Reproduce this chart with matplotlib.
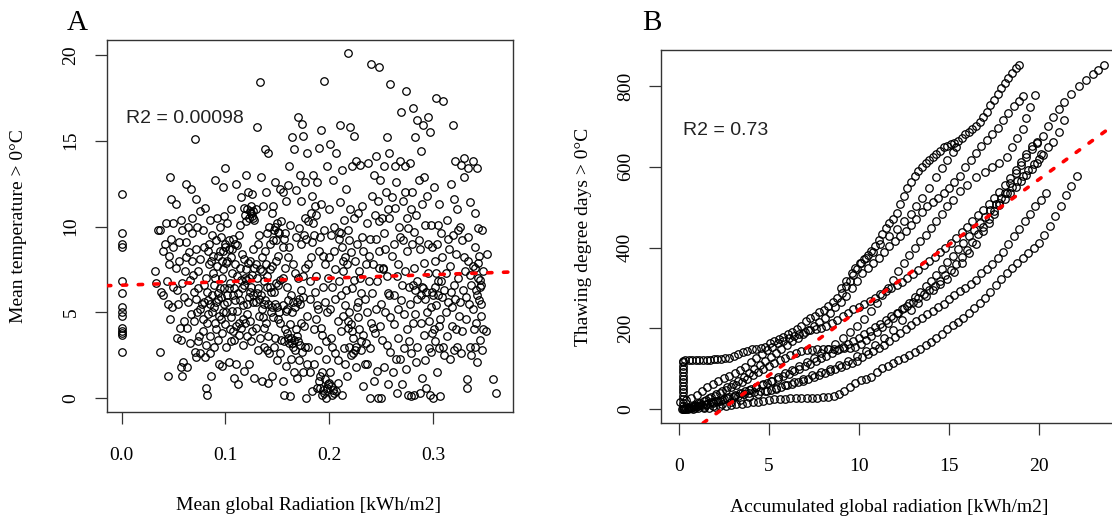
import numpy as np
import matplotlib.pyplot as plt

plt.rcParams['font.family'] = ['Liberation Serif', 'DejaVu Serif']

# ---- panel A: mean daily global radiation vs mean temperature > 0 C ----
pts_zero = [(0.0, 11.9), (0.0, 9.6), (0.0, 9.0), (0.0, 8.8), (0.0, 6.8), (0.0, 6.1),
            (0.0, 5.3), (0.0, 5.0), (0.0, 4.8), (0.0, 4.1), (0.0, 3.9), (0.0, 3.8),
            (0.0, 3.7), (0.0, 2.7)]

pts_low = [(0.032, 7.4), (0.033, 6.7), (0.035, 9.8), (0.037, 9.8), (0.037, 2.7), (0.038, 6.2),
           (0.040, 6.0), (0.040, 8.6), (0.043, 10.2), (0.045, 5.5), (0.045, 1.3), (0.046, 8.3),
           (0.046, 7.8), (0.047, 12.9), (0.048, 9.3), (0.048, 11.6), (0.049, 5.3), (0.050, 6.5),
           (0.050, 10.2), (0.052, 11.3), (0.052, 7.6), (0.053, 3.5), (0.054, 5.5), (0.055, 8.0),
           (0.056, 4.1), (0.057, 10.4), (0.057, 3.4), (0.057, 1.8), (0.058, 1.3), (0.058, 9.8),
           (0.059, 2.1), (0.060, 5.9), (0.061, 7.4), (0.062, 12.5), (0.062, 8.2), (0.063, 4.1),
           (0.063, 1.8), (0.064, 10.0), (0.065, 8.5), (0.066, 6.9), (0.067, 12.2), (0.067, 4.9),
           (0.068, 9.6), (0.068, 10.5), (0.069, 7.2), (0.070, 4.5), (0.071, 2.7), (0.071, 15.1),
           (0.072, 11.6), (0.072, 2.4), (0.073, 5.0), (0.073, 10.0), (0.074, 7.4), (0.075, 3.6),
           (0.076, 10.9), (0.076, 2.6), (0.077, 5.5), (0.078, 9.8), (0.079, 6.6), (0.080, 11.1),
           (0.080, 2.4), (0.081, 0.6), (0.082, 0.2), (0.082, 4.4), (0.083, 5.7), (0.084, 7.8),
           (0.084, 9.0), (0.085, 10.4), (0.085, 3.6), (0.086, 1.3), (0.087, 6.0), (0.088, 8.3),
           (0.089, 5.3), (0.090, 12.7), (0.090, 7.0), (0.091, 4.0), (0.092, 10.5), (0.093, 5.8),
           (0.093, 8.3), (0.094, 2.0), (0.095, 6.4), (0.096, 9.4), (0.096, 4.6), (0.097, 1.9),
           (0.098, 12.3), (0.098, 7.5), (0.099, 5.5),
           (0.072, 5.8), (0.074, 6.4), (0.076, 5.2), (0.078, 4.6), (0.079, 5.6), (0.081, 7.0),
           (0.082, 6.2), (0.083, 4.9), (0.085, 5.5), (0.086, 8.0), (0.087, 5.0), (0.088, 7.3),
           (0.089, 6.6), (0.090, 4.4), (0.091, 5.6), (0.092, 7.7), (0.093, 6.1), (0.094, 4.8),
           (0.095, 8.6), (0.096, 5.9), (0.097, 7.0), (0.098, 5.0), (0.099, 6.4), (0.098, 8.6),
           (0.097, 8.0),
           (0.042, 9.0), (0.044, 6.8), (0.047, 4.6), (0.050, 8.8), (0.053, 6.3), (0.055, 9.1),
           (0.058, 6.7), (0.060, 4.5), (0.062, 9.1), (0.064, 5.6), (0.066, 3.2), (0.068, 8.0),
           (0.070, 6.2), (0.072, 8.7), (0.074, 3.3), (0.076, 8.1), (0.078, 3.9), (0.079, 8.8)]

pts_mid1 = [(0.100, 13.4), (0.100, 8.8), (0.101, 3.0), (0.102, 6.0), (0.102, 10.2), (0.103, 2.1),
            (0.104, 4.0), (0.105, 8.2), (0.105, 11.0), (0.106, 5.1), (0.107, 3.9), (0.108, 6.4),
            (0.108, 1.2), (0.109, 9.0), (0.110, 12.5), (0.110, 2.0), (0.111, 7.1), (0.112, 0.8),
            (0.113, 4.4), (0.114, 10.1), (0.114, 5.7), (0.115, 11.7), (0.116, 8.4), (0.117, 3.1),
            (0.118, 6.6), (0.118, 1.6), (0.119, 10.7), (0.120, 13.0), (0.120, 7.5), (0.121, 4.9),
            (0.122, 12.0), (0.123, 10.5), (0.123, 2.0), (0.124, 6.2), (0.124, 8.0), (0.125, 10.8),
            (0.126, 3.9), (0.126, 11.9), (0.127, 5.6), (0.127, 10.5), (0.128, 1.2), (0.129, 7.8),
            (0.130, 15.8), (0.130, 6.1), (0.131, 2.8), (0.132, 9.5), (0.132, 4.8), (0.133, 18.4),
            (0.134, 12.9), (0.135, 7.4), (0.135, 1.0), (0.136, 11.2), (0.137, 5.5), (0.137, 3.0),
            (0.138, 14.5), (0.138, 8.6), (0.139, 12.0), (0.140, 6.5), (0.140, 2.8), (0.141, 14.3),
            (0.141, 0.9), (0.142, 10.0), (0.143, 7.5), (0.144, 5.0), (0.145, 1.3), (0.146, 11.2),
            (0.146, 9.2), (0.147, 6.2), (0.148, 3.5), (0.148, 12.6), (0.149, 8.0),
            (0.100, 4.3), (0.101, 7.9), (0.102, 5.6), (0.103, 8.7), (0.104, 6.7), (0.105, 4.7),
            (0.106, 7.3), (0.107, 9.3), (0.108, 3.4), (0.109, 5.7), (0.110, 4.2), (0.111, 8.9),
            (0.112, 6.1), (0.113, 3.7), (0.114, 7.6), (0.115, 4.1), (0.116, 6.4), (0.117, 5.4),
            (0.118, 8.1), (0.119, 4.4), (0.120, 6.9), (0.121, 3.6), (0.122, 7.9), (0.123, 5.9),
            (0.124, 4.5), (0.125, 6.5), (0.126, 7.2), (0.127, 6.0), (0.128, 7.6), (0.129, 5.6),
            (0.130, 7.0), (0.131, 6.4), (0.132, 5.8), (0.133, 7.5), (0.134, 6.0), (0.135, 5.2),
            (0.136, 4.7), (0.137, 6.8), (0.138, 5.7), (0.139, 4.4), (0.140, 7.1), (0.141, 5.5),
            (0.142, 2.6), (0.143, 9.0), (0.144, 6.2), (0.145, 5.3), (0.146, 4.7), (0.147, 9.8),
            (0.148, 5.5), (0.149, 9.2), (0.124, 10.9), (0.126, 10.6), (0.127, 10.9),
            (0.128, 10.4), (0.125, 11.2), (0.129, 11.0), (0.121, 11.0), (0.118, 11.1),
            (0.120, 10.3), (0.100, 9.0), (0.103, 9.2), (0.106, 8.7), (0.102, 8.0),
            (0.145, 10.8), (0.140, 9.6), (0.148, 10.0),
            (0.081, 3.1), (0.083, 8.6), (0.085, 2.6), (0.087, 9.5), (0.089, 3.0), (0.091, 9.2),
            (0.093, 3.4), (0.095, 10.0), (0.097, 3.8), (0.099, 10.6), (0.101, 5.0), (0.103, 6.4),
            (0.105, 3.3), (0.107, 6.0), (0.109, 7.8), (0.111, 5.1), (0.113, 9.5), (0.115, 6.9),
            (0.117, 4.6), (0.119, 7.0), (0.121, 5.5), (0.123, 7.0), (0.125, 3.3), (0.127, 8.7),
            (0.129, 4.1), (0.131, 9.0), (0.133, 3.5), (0.135, 8.2), (0.137, 4.1), (0.139, 7.8),
            (0.141, 3.6), (0.143, 6.5), (0.145, 7.7), (0.147, 3.0), (0.149, 6.7)]

pts_mid2 = [(0.150, 10.2), (0.150, 2.2), (0.151, 4.6), (0.152, 9.6), (0.153, 6.9), (0.153, 12.2),
            (0.154, 3.4), (0.155, 1.0), (0.155, 5.4), (0.156, 0.2), (0.156, 9.3), (0.157, 7.6),
            (0.158, 11.5), (0.158, 1.9), (0.159, 5.2), (0.160, 3.5), (0.160, 8.2), (0.161, 13.5),
            (0.162, 0.1), (0.162, 10.1), (0.163, 6.0), (0.164, 15.2), (0.164, 3.2), (0.165, 7.8),
            (0.166, 14.5), (0.166, 1.5), (0.167, 5.3), (0.168, 12.1), (0.168, 9.4), (0.169, 3.6),
            (0.170, 16.4), (0.170, 7.0), (0.171, 2.2), (0.172, 13.0), (0.172, 5.5), (0.173, 11.5),
            (0.173, 9.0), (0.174, 16.0), (0.175, 15.3), (0.175, 1.5), (0.176, 4.2), (0.177, 7.6),
            (0.177, 12.6), (0.178, 0.0), (0.179, 14.3), (0.180, 10.3), (0.180, 3.0), (0.181, 5.8),
            (0.182, 8.2), (0.183, 11.8), (0.183, 0.4), (0.184, 13.0), (0.185, 9.5), (0.185, 2.0),
            (0.186, 6.2), (0.187, 10.7), (0.187, 4.6), (0.188, 12.6), (0.188, 0.6), (0.189, 5.2),
            (0.190, 14.6), (0.190, 8.6), (0.191, 1.3), (0.192, 15.6), (0.192, 11.3), (0.193, 0.2),
            (0.193, 3.7), (0.194, 6.5), (0.195, 18.5), (0.195, 9.8), (0.196, 7.8), (0.197, 2.3),
            (0.198, 13.5), (0.198, 5.0), (0.199, 0.8),
            (0.150, 5.3), (0.151, 9.7), (0.152, 5.0), (0.153, 4.4), (0.154, 10.3), (0.155, 8.8),
            (0.156, 3.3), (0.157, 9.6), (0.158, 5.1), (0.159, 3.8), (0.160, 5.7), (0.161, 3.2),
            (0.162, 4.3), (0.163, 3.5), (0.164, 5.0), (0.165, 3.0), (0.166, 3.4), (0.167, 2.8),
            (0.168, 4.0), (0.169, 5.6), (0.170, 3.3), (0.171, 5.8), (0.172, 3.1), (0.173, 6.3),
            (0.174, 2.7), (0.175, 5.9), (0.176, 9.5), (0.177, 3.0), (0.178, 9.3), (0.179, 4.8),
            (0.180, 7.8), (0.181, 1.5), (0.182, 10.8), (0.184, 10.2), (0.186, 11.2), (0.188, 5.4),
            (0.190, 1.0), (0.191, 0.6), (0.194, 0.5), (0.196, 1.1), (0.198, 0.6),
            (0.160, 12.4), (0.155, 12.0), (0.151, 8.3),
            (0.151, 6.6), (0.153, 2.6), (0.155, 7.0), (0.157, 4.0), (0.159, 6.5), (0.161, 8.8),
            (0.163, 2.3), (0.165, 5.6), (0.167, 7.3), (0.169, 1.2), (0.171, 9.9), (0.173, 4.4),
            (0.175, 7.1), (0.177, 10.5), (0.179, 2.0), (0.181, 6.8), (0.183, 9.1), (0.185, 4.0),
            (0.187, 7.1), (0.189, 2.8), (0.191, 9.4), (0.192, 4.1), (0.194, 8.3), (0.196, 5.6),
            (0.197, 3.3), (0.199, 7.0), (0.193, 1.5), (0.195, 0.3), (0.197, 0.0)]

pts_high1 = [(0.200, 11.0), (0.200, 8.2), (0.201, 14.8), (0.202, 3.5), (0.202, 9.5), (0.203, 6.5),
             (0.204, 0.5), (0.204, 12.7), (0.205, 10.0), (0.206, 2.6), (0.206, 7.5), (0.207, 14.3),
             (0.208, 4.5), (0.208, 0.9), (0.209, 9.7), (0.210, 15.9), (0.210, 11.4), (0.211, 6.0),
             (0.212, 13.3), (0.212, 0.2), (0.213, 8.0), (0.214, 2.9), (0.214, 10.4), (0.215, 5.4),
             (0.216, 12.2), (0.217, 1.3), (0.217, 7.8), (0.218, 20.1), (0.218, 4.1), (0.219, 9.2),
             (0.220, 15.8), (0.220, 11.0), (0.221, 2.5), (0.222, 13.5), (0.222, 6.4), (0.223, 3.5),
             (0.224, 10.5), (0.224, 15.3), (0.225, 8.0), (0.226, 13.8), (0.226, 1.8), (0.227, 5.3),
             (0.228, 10.8), (0.229, 4.0), (0.230, 13.6), (0.230, 7.0), (0.231, 2.8), (0.232, 11.2),
             (0.233, 0.7), (0.233, 8.6), (0.234, 5.8), (0.235, 3.2), (0.236, 10.2), (0.236, 2.0),
             (0.237, 13.7), (0.238, 6.8), (0.239, 0.0), (0.239, 9.3), (0.240, 19.5), (0.240, 4.4),
             (0.241, 11.8), (0.242, 7.8), (0.243, 1.0), (0.243, 13.0), (0.244, 3.8), (0.245, 9.3),
             (0.245, 14.1), (0.246, 6.8), (0.247, 11.5), (0.247, 0.0), (0.248, 19.3), (0.248, 8.6),
             (0.249, 12.7),
             (0.200, 0.9), (0.202, 0.7), (0.205, 0.3), (0.207, 0.4), (0.209, 9.3), (0.211, 9.6),
             (0.213, 7.4), (0.215, 8.2), (0.218, 4.5), (0.219, 3.0), (0.221, 4.3), (0.223, 2.6),
             (0.226, 3.0), (0.228, 5.6), (0.231, 3.3), (0.234, 2.0), (0.248, 7.6),
             (0.201, 5.2), (0.203, 3.0), (0.205, 8.6), (0.206, 5.8), (0.208, 2.2), (0.209, 6.8),
             (0.211, 3.9), (0.212, 8.8), (0.213, 4.8), (0.215, 2.0), (0.216, 6.3), (0.218, 9.8),
             (0.219, 5.0), (0.221, 8.5), (0.222, 3.9), (0.224, 6.9), (0.225, 2.8), (0.227, 9.0),
             (0.228, 4.7), (0.229, 7.4), (0.231, 6.1), (0.232, 9.4), (0.233, 3.7), (0.235, 7.8),
             (0.236, 5.0), (0.238, 8.3), (0.239, 2.9), (0.241, 6.1), (0.242, 4.1), (0.244, 10.7),
             (0.245, 5.2), (0.246, 1.6), (0.248, 10.3), (0.249, 4.2), (0.201, 1.5), (0.203, 0.2)]

pts_high2 = [(0.250, 0.0), (0.250, 5.5), (0.251, 10.5), (0.252, 7.6), (0.253, 1.8), (0.253, 13.5),
             (0.254, 8.7), (0.255, 12.0), (0.256, 15.2), (0.256, 3.1), (0.257, 6.1), (0.257, 0.8),
             (0.258, 14.3), (0.258, 10.5), (0.259, 18.3), (0.259, 4.7), (0.260, 11.7), (0.261, 1.5),
             (0.262, 6.0), (0.262, 9.0), (0.263, 13.5), (0.264, 2.3), (0.264, 12.6), (0.265, 0.3),
             (0.266, 5.2), (0.266, 7.8), (0.267, 10.0), (0.268, 13.8), (0.268, 2.3), (0.269, 16.7),
             (0.270, 6.6), (0.270, 0.8), (0.271, 9.2), (0.272, 4.9), (0.273, 12.0), (0.273, 13.5),
             (0.274, 17.9), (0.274, 1.7), (0.275, 8.6), (0.275, 10.5), (0.276, 0.2), (0.277, 3.3),
             (0.277, 6.5), (0.278, 13.7), (0.279, 11.0), (0.279, 0.1), (0.280, 9.0), (0.281, 16.9),
             (0.281, 4.4), (0.282, 0.2), (0.282, 7.6), (0.283, 15.2), (0.284, 10.7), (0.284, 2.1),
             (0.285, 5.8), (0.285, 16.2), (0.286, 12.7), (0.287, 0.3), (0.287, 8.7), (0.288, 14.4),
             (0.289, 6.5), (0.289, 1.2), (0.290, 15.9), (0.291, 12.9), (0.291, 3.7), (0.292, 10.1),
             (0.293, 6.2), (0.293, 0.6), (0.294, 11.8), (0.295, 16.4), (0.295, 7.3), (0.296, 4.5),
             (0.297, 15.5), (0.297, 0.2), (0.298, 10.1), (0.298, 2.7), (0.299, 8.8),
             (0.252, 7.5), (0.258, 6.0), (0.281, 6.6), (0.283, 6.3), (0.285, 6.8), (0.288, 6.0),
             (0.290, 6.4), (0.292, 5.8), (0.299, 6.2),
             (0.251, 3.4), (0.253, 9.6), (0.254, 5.0), (0.256, 7.1), (0.257, 11.0), (0.259, 2.7),
             (0.260, 8.3), (0.262, 4.3), (0.263, 11.1), (0.265, 7.1), (0.266, 3.5), (0.268, 9.4),
             (0.269, 5.7), (0.271, 11.5), (0.272, 2.9), (0.273, 7.4), (0.275, 4.0), (0.276, 9.9),
             (0.278, 5.5), (0.279, 2.6), (0.280, 12.0), (0.282, 9.7), (0.283, 4.9), (0.285, 3.0),
             (0.286, 9.2), (0.288, 4.4), (0.289, 11.3), (0.291, 7.9), (0.292, 2.2), (0.294, 5.0),
             (0.295, 9.0), (0.296, 2.9), (0.298, 5.3), (0.299, 3.8)]

pts_top = [(0.300, 6.0), (0.300, 0.0), (0.301, 12.3), (0.302, 3.3), (0.302, 8.0), (0.303, 17.5),
           (0.303, 5.4), (0.304, 1.5), (0.305, 10.1), (0.305, 6.8), (0.306, 2.9), (0.306, 11.3),
           (0.307, 0.1), (0.307, 4.6), (0.308, 9.6), (0.309, 5.9), (0.309, 8.2), (0.310, 17.3),
           (0.311, 2.5), (0.311, 6.3), (0.312, 7.3), (0.313, 10.4), (0.313, 3.6), (0.314, 5.6),
           (0.315, 8.7), (0.316, 2.3), (0.317, 6.2), (0.317, 12.5), (0.318, 4.2), (0.319, 9.5),
           (0.319, 15.9), (0.320, 11.6), (0.320, 2.8), (0.321, 13.8), (0.321, 5.8), (0.322, 8.4),
           (0.323, 3.0), (0.323, 11.0), (0.324, 7.0), (0.325, 4.8), (0.326, 10.0), (0.327, 13.6),
           (0.327, 2.6), (0.328, 9.2), (0.329, 6.3), (0.330, 14.0), (0.330, 12.9), (0.331, 7.4),
           (0.332, 4.6), (0.333, 1.1), (0.333, 0.6), (0.334, 13.4), (0.334, 8.0), (0.335, 5.5),
           (0.336, 11.4), (0.336, 3.0), (0.337, 6.6), (0.337, 2.5), (0.338, 13.8), (0.338, 7.7),
           (0.339, 4.0), (0.340, 10.8), (0.340, 8.8), (0.341, 6.3), (0.341, 4.4), (0.342, 13.4),
           (0.342, 2.1), (0.343, 9.9), (0.343, 7.0), (0.344, 5.7), (0.345, 6.5), (0.345, 3.4),
           (0.346, 5.5), (0.347, 9.8), (0.347, 2.8), (0.348, 4.0), (0.351, 3.9), (0.352, 8.4),
           (0.358, 1.1), (0.361, 0.3), (0.302, 6.5), (0.305, 6.0), (0.340, 7.6), (0.343, 7.9),
           (0.345, 6.9), (0.346, 6.6),
           (0.301, 4.0), (0.303, 7.3), (0.304, 9.0), (0.306, 4.2), (0.308, 6.8), (0.310, 3.0),
           (0.312, 5.0), (0.314, 9.3), (0.316, 7.7), (0.318, 5.3), (0.320, 6.6), (0.322, 4.0),
           (0.324, 9.8), (0.326, 5.6), (0.328, 3.9), (0.330, 8.2), (0.332, 5.9), (0.334, 9.4),
           (0.336, 7.2), (0.338, 5.2), (0.340, 3.0), (0.342, 6.0), (0.344, 8.3), (0.346, 4.8),
           (0.348, 7.4)]

fit_a = (6.58, 2.05)   # intercept, slope of the red line
r2_a = "R2 = 0.00098"

# ---- panel B: accumulated radiation vs thawing degree days, one track per season ----
curve_1 = [(0.25, 0), (0.25, 8), (0.25, 16), (0.25, 25), (0.25, 33), (0.25, 42), (0.25, 50),
           (0.25, 58), (0.25, 67), (0.25, 75), (0.25, 83), (0.25, 92), (0.25, 100), (0.25, 108),
           (0.25, 116), (0.25, 120), (0.35, 121), (0.55, 121), (0.75, 122), (0.95, 122),
           (1.15, 122), (1.35, 123), (1.55, 123), (1.75, 123), (1.95, 124), (2.15, 124),
           (2.35, 125), (2.55, 126), (2.8, 128), (3.05, 132), (3.3, 136), (3.55, 141), (3.8, 145),
           (4.05, 148), (4.3, 150), (4.55, 152), (4.8, 155), (5.05, 163), (5.3, 168), (5.55, 174),
           (5.8, 180), (6.05, 186), (6.3, 192), (6.55, 198), (6.8, 206), (7.05, 218), (7.3, 226),
           (7.55, 232), (7.8, 240), (8.05, 246), (8.3, 256), (8.55, 266), (8.8, 276), (9.05, 288),
           (9.3, 304), (9.5, 318), (9.7, 332), (9.9, 348), (10.1, 362), (10.3, 372), (10.5, 382),
           (10.7, 392), (10.9, 404), (11.1, 418), (11.3, 434), (11.5, 448), (11.7, 460),
           (11.9, 472), (12.1, 486), (12.3, 508), (12.5, 528), (12.7, 548), (12.9, 562),
           (13.1, 576), (13.3, 590), (13.5, 600), (13.7, 610), (13.9, 618), (14.1, 624),
           (14.3, 632), (14.5, 640), (14.7, 648), (14.9, 652), (15.1, 656), (15.3, 660),
           (15.5, 664), (15.7, 672), (15.9, 680), (16.1, 686), (16.3, 694), (16.5, 702),
           (16.7, 712), (16.9, 722), (17.1, 736), (17.3, 752), (17.5, 766), (17.7, 780),
           (17.9, 794), (18.1, 808), (18.3, 820), (18.5, 832), (18.7, 844), (18.9, 852)]

curve_2 = [(0.3, 2), (0.6, 6), (0.9, 10), (1.2, 16), (1.5, 22), (1.8, 30), (2.1, 38), (2.4, 46),
           (2.7, 54), (3.0, 62), (3.3, 70), (3.6, 80), (3.9, 90), (4.2, 100), (4.5, 110),
           (4.8, 120), (5.1, 130), (5.4, 140), (5.7, 150), (6.0, 160), (6.3, 168), (6.6, 176),
           (6.9, 186), (7.2, 196), (7.5, 206), (7.8, 216), (8.1, 226), (8.4, 238), (8.7, 252),
           (9.0, 266), (9.3, 280), (9.6, 300), (9.9, 318), (10.2, 336), (10.5, 350), (10.8, 362),
           (11.1, 374), (11.4, 390), (11.7, 404), (12.0, 416), (12.3, 428), (12.6, 442),
           (12.9, 456), (13.2, 470), (13.5, 488), (13.8, 504), (14.1, 514), (14.4, 524),
           (14.7, 535), (15.0, 548), (15.3, 562), (15.6, 576), (15.9, 600), (16.2, 617),
           (16.5, 634), (16.8, 652), (17.1, 667), (17.4, 680), (17.7, 696), (18.0, 716),
           (18.3, 734), (18.6, 750), (18.9, 764), (19.1, 774)]

curve_3 = [(0.3, 0), (0.7, 3), (1.1, 7), (1.5, 11), (1.9, 16), (2.3, 21), (2.7, 27), (3.1, 33),
           (3.5, 40), (3.9, 47), (4.3, 55), (4.7, 63), (5.1, 71), (5.5, 80), (5.9, 89), (6.3, 98),
           (6.7, 108), (7.1, 118), (7.5, 128), (7.9, 138), (8.3, 150), (8.7, 162), (9.1, 176),
           (9.5, 190), (9.9, 206), (10.3, 224), (10.7, 244), (11.0, 262), (11.3, 282),
           (11.6, 300), (11.9, 320), (12.2, 342), (12.5, 362), (12.8, 382), (13.1, 398),
           (13.4, 416), (13.7, 432), (14.0, 448), (14.3, 466), (14.6, 484), (14.9, 502),
           (15.2, 518), (15.6, 540), (16.0, 556), (16.5, 574), (17.0, 588), (17.4, 600),
           (17.8, 610), (18.2, 625), (18.5, 648), (18.8, 672), (19.1, 694), (19.3, 720),
           (19.5, 748), (19.76, 778)]

curve_4 = [(0.4, 0), (0.9, 2), (1.4, 5), (1.9, 9), (2.4, 13), (2.9, 18), (3.4, 24), (3.9, 30),
           (4.4, 37), (4.9, 44), (5.4, 52), (5.9, 60), (6.4, 68), (6.9, 76), (7.4, 84), (7.9, 92),
           (8.4, 100), (8.9, 110), (9.4, 120), (9.9, 132), (10.4, 144), (10.9, 158), (11.4, 176),
           (11.9, 196), (12.4, 220), (12.9, 245), (13.3, 262), (13.7, 280), (14.1, 295),
           (14.5, 310), (14.9, 322), (15.3, 340), (15.7, 362), (16.1, 386), (16.5, 410),
           (16.9, 440), (17.2, 462), (17.5, 484), (17.8, 510), (18.1, 535), (18.4, 560),
           (18.7, 585), (19.0, 605), (19.3, 625), (19.6, 645), (19.9, 660), (20.2, 675),
           (20.5, 700), (20.8, 722), (21.1, 742), (21.4, 760), (21.8, 780), (22.2, 800),
           (22.6, 815), (23.0, 830), (23.3, 840), (23.6, 852)]

curve_5 = [(0.4, 2), (0.7, 4), (1.0, 7), (1.3, 10), (1.6, 13), (1.9, 17), (2.2, 21), (2.5, 25),
           (2.8, 30), (3.1, 35), (3.4, 40), (3.7, 45), (4.0, 50), (4.3, 55), (4.6, 60), (4.9, 65),
           (5.2, 70), (5.5, 76), (5.8, 82), (6.1, 88), (6.4, 94), (6.7, 100), (7.0, 106),
           (7.3, 112), (7.6, 119), (7.9, 126), (8.2, 133), (8.5, 140), (8.8, 147), (9.1, 155),
           (9.4, 162), (9.7, 170), (10.0, 177), (10.3, 185), (10.6, 194), (10.9, 203),
           (11.2, 212), (11.5, 221), (11.8, 230), (12.1, 239), (12.4, 248), (12.7, 256),
           (13.0, 265), (13.3, 275), (13.6, 285), (13.9, 296), (14.2, 306), (14.5, 318),
           (14.8, 331), (15.1, 345), (15.4, 360), (15.7, 377), (16.0, 395), (16.3, 414),
           (16.6, 433), (16.9, 452), (17.2, 471), (17.5, 490), (17.8, 505), (18.1, 520),
           (18.4, 535), (18.7, 550), (19.0, 565), (19.3, 580), (19.6, 595), (19.9, 609),
           (20.2, 628), (20.5, 648), (20.8, 662), (21.1, 685), (21.4, 716)]

curve_6 = [(0.5, 0), (0.8, 1), (1.1, 2), (1.4, 3), (1.7, 4), (2.0, 6), (2.3, 7), (2.6, 8),
           (2.9, 10), (3.2, 12), (3.5, 13), (3.8, 15), (4.1, 17), (4.4, 19), (4.7, 21), (5.0, 23),
           (5.3, 25), (5.6, 26), (5.9, 26), (6.2, 27), (6.5, 27), (6.8, 28), (7.1, 28), (7.4, 29),
           (7.7, 29), (8.0, 30), (8.3, 31), (8.6, 33), (8.9, 38), (9.2, 46), (9.5, 56), (9.8, 65),
           (10.1, 72), (10.4, 76), (10.7, 80), (11.0, 92), (11.3, 101), (11.6, 108), (11.9, 115),
           (12.2, 121), (12.5, 128), (12.8, 135), (13.1, 142), (13.4, 150), (13.7, 158),
           (14.0, 166), (14.3, 176), (14.6, 187), (14.9, 198), (15.2, 208), (15.5, 217),
           (15.8, 226), (16.1, 238), (16.4, 250), (16.7, 262), (17.0, 276), (17.3, 291),
           (17.6, 307), (17.9, 323), (18.2, 337), (18.5, 350), (18.8, 362), (19.1, 374),
           (19.4, 386), (19.7, 398), (20.0, 412), (20.3, 430), (20.6, 453), (20.9, 478),
           (21.2, 502), (21.5, 530), (21.8, 552), (22.1, 576)]

curve_7 = [(0.3, 0), (0.6, 3), (0.9, 7), (1.2, 11), (1.5, 14), (1.8, 17), (2.1, 21), (2.4, 24),
           (2.7, 28), (3.0, 31), (3.3, 34), (3.6, 37), (3.9, 39), (4.2, 42), (4.5, 44), (4.8, 46),
           (5.1, 48), (5.4, 51), (5.7, 55), (6.0, 59), (6.3, 63), (6.6, 67), (6.9, 71), (7.2, 75),
           (7.5, 80), (7.8, 85), (8.1, 90), (8.4, 95), (8.7, 99), (9.0, 104), (9.3, 109),
           (9.6, 114), (9.9, 120), (10.2, 129), (10.5, 137), (10.8, 145), (11.1, 152),
           (11.4, 160), (11.7, 168), (12.0, 178), (12.3, 188), (12.6, 198), (12.9, 208),
           (13.2, 218), (13.5, 227), (13.8, 235), (14.1, 244), (14.4, 252), (14.7, 261),
           (15.0, 272), (15.3, 282), (15.6, 292), (15.9, 301), (16.2, 311), (16.5, 321),
           (16.8, 336), (17.1, 348), (17.4, 360), (17.7, 374), (18.0, 390), (18.3, 408),
           (18.6, 428), (18.9, 447), (19.2, 466), (19.5, 484), (19.8, 502), (20.1, 518),
           (20.4, 535)]

curve_8 = [(0.2, 0), (0.5, 4), (0.8, 9), (1.1, 15), (1.4, 21), (1.7, 27), (2.0, 33), (2.3, 40),
           (2.6, 47), (2.9, 54), (3.2, 61), (3.5, 68), (3.8, 76), (4.1, 84), (4.4, 92), (4.7, 100),
           (5.0, 108), (5.3, 115), (5.6, 122), (5.9, 128), (6.2, 134), (6.5, 139), (6.8, 143),
           (7.1, 146), (7.4, 147), (7.7, 148), (8.0, 148), (8.3, 149), (8.6, 149), (8.9, 150),
           (9.2, 151), (9.5, 152), (9.8, 154), (10.1, 162), (10.4, 172), (10.7, 182), (11.0, 192),
           (11.3, 203), (11.6, 214), (11.9, 226), (12.2, 238), (12.5, 251), (12.8, 264),
           (13.1, 277), (13.4, 290), (13.7, 304), (14.0, 318), (14.3, 333), (14.6, 348),
           (14.9, 364), (15.2, 380), (15.5, 396), (15.8, 412), (16.1, 428), (16.4, 444),
           (16.7, 460), (17.0, 476), (17.3, 492), (17.6, 508), (17.9, 522), (18.2, 536),
           (18.5, 550), (18.8, 564), (19.1, 578), (19.4, 592), (19.7, 606), (20.0, 620),
           (20.1, 632)]

curve_9 = [(0.1, 17), (0.4, 22), (0.7, 28), (1.0, 36), (1.3, 45), (1.6, 54), (1.9, 62), (2.2, 70),
           (2.5, 77), (2.8, 83), (3.1, 89), (3.4, 96), (3.7, 105), (4.0, 116), (4.3, 127),
           (4.6, 137), (4.9, 146), (5.2, 155), (5.5, 163), (5.8, 170), (6.1, 176), (6.4, 181),
           (6.7, 186), (7.0, 191), (7.3, 195), (7.6, 198), (7.9, 201), (8.2, 206), (8.5, 214),
           (8.8, 222), (9.1, 230), (9.4, 238), (9.7, 247), (10.0, 254), (10.3, 261), (10.6, 268),
           (10.9, 276), (11.2, 285), (11.5, 293), (11.8, 300), (12.1, 308), (12.4, 316),
           (12.7, 325), (13.0, 334), (13.3, 344), (13.6, 356), (13.9, 367), (14.2, 378),
           (14.5, 389), (14.8, 400), (15.1, 412), (15.4, 425), (15.7, 438), (16.0, 452),
           (16.3, 466), (16.6, 480), (16.9, 494), (17.2, 508), (17.5, 522), (17.8, 538),
           (18.1, 554), (18.4, 572), (18.7, 592), (19.0, 612), (19.3, 632), (19.6, 652),
           (19.9, 662)]

curve_10 = [(9.0, 300), (9.3, 318), (9.6, 336), (9.8, 350), (10.05, 363), (10.4, 375),
            (10.8, 390), (11.2, 408), (11.7, 428), (12.1, 446), (12.5, 465), (12.9, 484),
            (13.2, 502), (13.5, 522), (13.9, 548), (14.3, 575), (14.6, 598), (14.9, 618),
            (15.2, 636), (15.4, 650)]

fit_b = (-78.0, 32.35)
r2_b = "R2 = 0.73"

W, H = 1112, 521
fig = plt.figure(figsize=(W / 100, H / 100), dpi=100)


def px_axes(left, top, right, bottom):
    return fig.add_axes([left / W, 1 - bottom / H, (right - left) / W, (bottom - top) / H])


def style(ax):
    for sp in ax.spines.values():
        sp.set_color('#333333')
        sp.set_linewidth(1.0)
    ax.tick_params(direction='out', length=8.5, width=0.9, color='#333333',
                   labelsize=14, pad=11)
    ax.tick_params(axis='x', pad=17)
    for lab in ax.get_yticklabels():
        lab.set_rotation(90)
        lab.set_va('center')


circle = dict(ls='none', marker='o', ms=5.4, mfc='none', mec='black', mew=0.9)
fit_style = dict(color='red', lw=2.6, dashes=(1.2, 3.2), dash_capstyle='round', zorder=3)

# panel A
axA = px_axes(106.5, 40, 512.5, 412)
pts_a = np.array(pts_zero + pts_low + pts_mid1 + pts_mid2 + pts_high1 + pts_high2 + pts_top)
axA.plot(pts_a[:, 0], pts_a[:, 1], **circle)
axA.axline((0, fit_a[0]), slope=fit_a[1], **fit_style)
axA.set_xlim(-0.0145, 0.3765)
axA.set_ylim(-0.81, 20.87)
axA.set_xticks([0.0, 0.1, 0.2, 0.3])
axA.set_xticklabels(['0.0', '0.1', '0.2', '0.3'])
axA.set_yticks([0, 5, 10, 15, 20])
style(axA)
axA.text(0.0045, 16.3, r2_a, family='Liberation Sans', fontsize=14, va='center', color='#222222')

# panel B
axB = px_axes(661, 50, 1121, 423)
for c in [curve_1, curve_2, curve_3, curve_4, curve_5, curve_6, curve_7, curve_8, curve_9, curve_10]:
    c = np.array(c)
    axB.plot(c[:, 0], c[:, 1], **circle)
axB.axline((0, fit_b[0]), slope=fit_b[1], **fit_style)
axB.set_xlim(-0.98, 24.55)
axB.set_ylim(-34, 889)
axB.set_xticks([0, 5, 10, 15, 20])
axB.set_yticks([0, 200, 400, 600, 800])
style(axB)
axB.text(0.22, 691, r2_b, family='Liberation Sans', fontsize=14, va='center', color='#222222')

# labels
fig.text(309 / W, 1 - 505 / H, 'Mean global Radiation [kWh/m2]', fontsize=14, ha='center', va='center')
fig.text(19 / W, 1 - 226 / H, 'Mean temperature > 0\u00b0C', fontsize=14, ha='center', va='center', rotation=90)
fig.text(889 / W, 1 - 508 / H, 'Accumulated global radiation [kWh/m2]', fontsize=14, ha='center', va='center')
fig.text(583 / W, 1 - 237 / H, 'Thawing degree days > 0\u00b0C', fontsize=14, ha='center', va='center', rotation=90)
fig.text(77 / W, 1 - 23 / H, 'A', fontsize=21, ha='center', va='center')
fig.text(652 / W, 1 - 23 / H, 'B', fontsize=21, ha='center', va='center')

fig.savefig('out.png', dpi=100)
